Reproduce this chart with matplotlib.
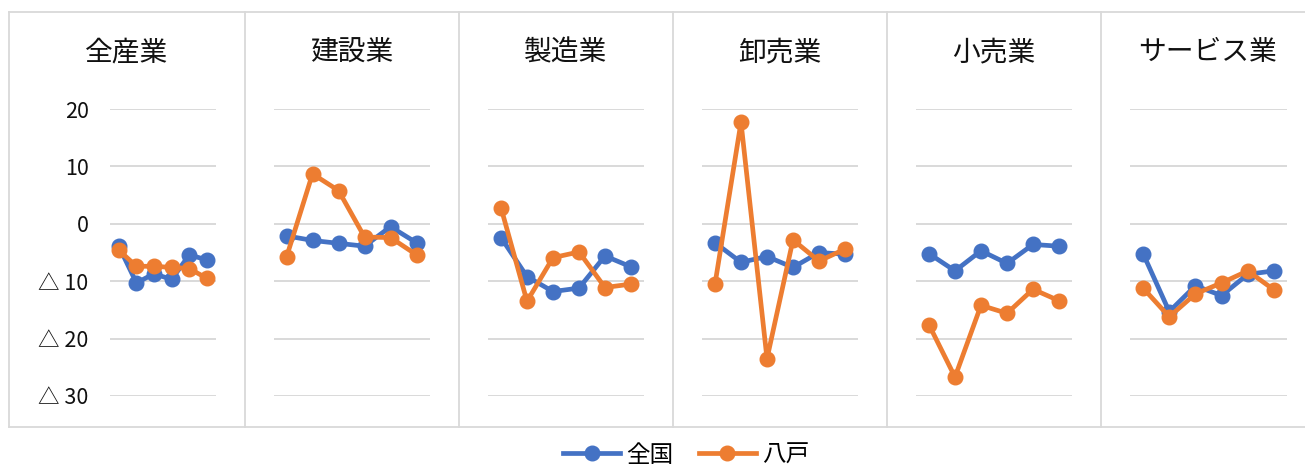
import matplotlib
matplotlib.use("Agg")
import matplotlib.pyplot as plt
from matplotlib.lines import Line2D

plt.rcParams['font.family'] = ['Noto Sans CJK JP', 'DejaVu Sans']

industries = ['全産業', '建設業', '製造業', '卸売業', '小売業', 'サービス業']
series_names = ['全国', '八戸']
periods = [1, 2, 3, 4, 5, 6]

zenkoku = {
    '全産業':   [-3.9, -10.3, -8.7, -9.7, -5.4, -6.3],
    '建設業':   [-2.1, -2.9, -3.4, -3.9, -0.5, -3.3],
    '製造業':   [-2.4, -9.2, -11.8, -11.2, -5.6, -7.5],
    '卸売業':   [-3.3, -6.7, -5.7, -7.6, -5.0, -5.3],
    '小売業':   [-5.2, -8.2, -4.7, -6.9, -3.6, -3.9],
    'サービス業': [-5.2, -15.3, -10.8, -12.5, -8.8, -8.2],
}
hachinohe = {
    '全産業':   [-4.6, -7.4, -7.4, -7.6, -7.8, -9.5],
    '建設業':   [-5.8, 8.7, 5.8, -2.3, -2.4, -5.4],
    '製造業':   [2.8, -13.5, -5.9, -4.9, -11.1, -10.5],
    '卸売業':   [-10.5, 17.7, -23.5, -2.8, -6.5, -4.4],
    '小売業':   [-17.6, -26.7, -14.2, -15.6, -11.4, -13.4],
    'サービス業': [-11.2, -16.2, -12.2, -10.3, -8.2, -11.5],
}
yticks = [20, 10, 0, -10, -20, -30]
ytick_labels = ['20', '10', '0', '△ 10', '△ 20', '△ 30']

W, H = 1305, 466
fig = plt.figure(figsize=(W / 100, H / 100), dpi=100)

BLUE = '#4472C4'
ORANGE = '#ED7D31'
GRID = '#D9D9D9'

# plot-area pixel extents (left, right)
plot_x = [(110, 215.7), (273.5, 429.5), (488, 644), (702, 858), (916, 1072), (1130, 1287)]
box_edges = [9, 245, 459, 673, 887, 1101, 1315]
y_top, y_bot = 109, 396

axes = []
for i, ind in enumerate(industries):
    x0, x1 = plot_x[i]
    ax = fig.add_axes([x0 / W, 1 - y_bot / H, (x1 - x0) / W, (y_bot - y_top) / H])
    ax.plot(periods, zenkoku[ind], color=BLUE, lw=3.4, marker='o', ms=10.5,
            label=series_names[0], clip_on=False, zorder=3)
    ax.plot(periods, hachinohe[ind], color=ORANGE, lw=3.4, marker='o', ms=10.5,
            label=series_names[1], clip_on=False, zorder=4)
    ax.set_xlim(0.5, 6.5)
    ax.set_ylim(-30, 20)
    ax.set_yticks(yticks)
    ax.yaxis.grid(True, color=GRID, lw=1.4)
    ax.set_axisbelow(True)
    ax.set_xticks([])
    for s in ax.spines.values():
        s.set_visible(False)
    if i == 0:
        ax.set_yticklabels(ytick_labels, fontsize=15.5, color='#111111')
        ax.tick_params(axis='y', length=0, pad=15.5)
    else:
        ax.tick_params(axis='y', length=0, labelleft=False)
    cx = (box_edges[i] + box_edges[i + 1]) / 2
    fig.text(cx / W, 1 - 52 / H, ind, ha='center', va='center', fontsize=20, color='#111111')
    axes.append(ax)

# frame and dividers
lw_frame = 1.3
top_px, bot_px = 12, 427
fig.add_artist(Line2D([9 / W, 1.0], [1 - top_px / H] * 2, color=GRID, lw=lw_frame))
fig.add_artist(Line2D([9 / W, 1.0], [1 - bot_px / H] * 2, color=GRID, lw=lw_frame))
for xe in box_edges[:-1]:
    fig.add_artist(Line2D([xe / W] * 2, [1 - top_px / H, 1 - bot_px / H], color=GRID, lw=lw_frame))

handles, labels = axes[0].get_legend_handles_labels()
fig.legend(handles, labels, loc='center', bbox_to_anchor=(686 / W, 1 - 455 / H),
           ncol=2, frameon=False, fontsize=17, handlelength=2.4, handletextpad=0.25,
           columnspacing=1.1, borderpad=0)

fig.savefig('out.png', dpi=100)
